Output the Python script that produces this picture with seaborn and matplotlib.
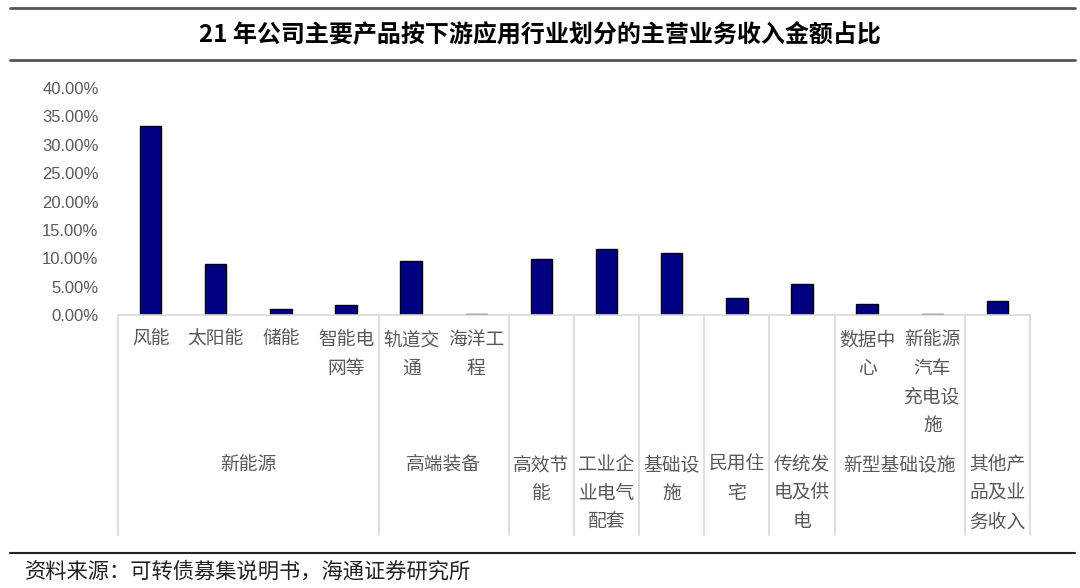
"""
21年公司主要产品按下游应用行业划分的主营业务收入金额占比 - bar chart with grouped category axis.
"""

import matplotlib
matplotlib.use('Agg')
import matplotlib.pyplot as plt
import matplotlib.transforms as mtransforms
from matplotlib.lines import Line2D
import pandas as pd
import seaborn as sns

# Data
categories = ['风能', '太阳能', '储能', '智能电网等', '轨道交通', '海洋工程', '高效节能',
              '工业企业电气配套', '基础设施', '民用住宅', '传统发电及供电', '数据中心',
              '新能源汽车充电设施', '其他产品及业务收入']
sub_labels = ['风能', '太阳能', '储能', '智能电\n网等', '轨道交\n通', '海洋工\n程', '',
              '', '', '', '', '数据中\n心', '新能源\n汽车\n充电设\n施', '']
groups = ['新能源', '新能源', '新能源', '新能源', '高端装备', '高端装备', '高效节\n能',
          '工业企\n业电气\n配套', '基础设\n施', '民用住\n宅', '传统发\n电及供\n电',
          '新型基础设施', '新型基础设施', '其他产\n品及业\n务收入']
values = [33.3, 9.0, 1.0, 1.7, 9.5, 0.2, 9.9, 11.6, 10.9, 3.0, 5.5, 1.9, 0.2, 2.5]
yticks = [0, 5, 10, 15, 20, 25, 30, 35, 40]

title = '21 年公司主要产品按下游应用行业划分的主营业务收入金额占比'
source = '资料来源：可转债募集说明书，海通证券研究所'

sns.set_theme(style='white')
plt.rcParams['font.family'] = ['Noto Sans CJK SC', 'DejaVu Sans']

W, H = 1080, 588
fig = plt.figure(figsize=(W / 100, H / 100), dpi=100)

def fy(py):
    # pixel row (from top) -> figure fraction
    return 1 - py / H

ax = fig.add_axes([118 / W, fy(315), (1030 - 118) / W, (315 - 88) / H])

df = pd.DataFrame({'category': categories, 'value': values})
sns.barplot(data=df, x='category', y='value', order=categories, color='#000080',
            edgecolor='black', linewidth=1.0, width=0.33, saturation=1, ax=ax)

ax.set_ylim(0, 40)
ax.set_xlim(-0.5, len(categories) - 0.5)
ax.set_yticks(yticks)
ax.set_yticklabels([f'{t:.2f}%' for t in yticks], family=['Liberation Sans'],
                   fontsize=12, color='#595959')
ax.set_xticks([])
ax.set_xlabel('')
ax.set_ylabel('')
ax.tick_params(axis='y', length=0, pad=14)
for s in ['top', 'right', 'left']:
    ax.spines[s].set_visible(False)
ax.spines['bottom'].set_color('#d9d9d9')
ax.spines['bottom'].set_linewidth(1.2)

# category axis labels below the plot
trans = mtransforms.blended_transform_factory(ax.transData, fig.transFigure)
label_color = '#595959'
for i, lab in enumerate(sub_labels):
    if lab:
        ax.text(i, fy(329), lab, transform=trans, ha='center', va='top',
                fontsize=13.5, color=label_color, linespacing=1.48)

# group labels and separators
start = 0
bounds = [-0.5]
for i in range(1, len(groups) + 1):
    if i == len(groups) or groups[i] != groups[start]:
        mid = (start + i - 1) / 2
        ax.text(mid, fy(454), groups[start], transform=trans, ha='center', va='top',
                fontsize=13.5, color=label_color, linespacing=1.48)
        bounds.append(i - 0.5)
        start = i
for b in bounds:
    fig.add_artist(Line2D([b, b], [fy(315), fy(535)], transform=trans,
                          color='#d9d9d9', linewidth=1.2))

# title band and source
fig.add_artist(Line2D([10 / W, 1075 / W], [fy(8), fy(8)], color='#555555', linewidth=2))
fig.add_artist(Line2D([10 / W, 1075 / W], [fy(60), fy(60)], color='#555555', linewidth=2))
fig.text(0.5, fy(35), title, ha='center', va='center', fontsize=17.3,
         fontweight='bold', color='black')
fig.add_artist(Line2D([10 / W, 1075 / W], [fy(553), fy(553)], color='#222222', linewidth=1.5))
fig.text(25 / W, fy(572), source, ha='left', va='center', fontsize=15.3, color='#222222')

fig.savefig('out.png', dpi=100)
